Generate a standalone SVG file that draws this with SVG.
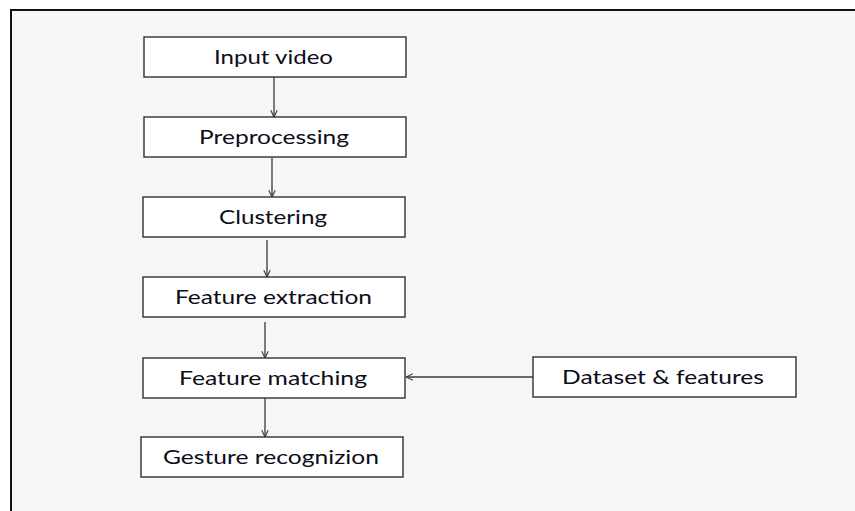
<svg xmlns="http://www.w3.org/2000/svg" width="855" height="511" viewBox="0 0 855 511">
  <style>
    .box { fill: #ffffff; stroke: #2f2f2f; stroke-width: 1.4; }
    .lbl { font-family: Lato, "Open Sans", "Liberation Sans", sans-serif; font-size: 20px; fill: #0d0d1a; text-anchor: middle; dominant-baseline: central; }
    .conn { stroke: #3a3a3a; stroke-width: 1.3; fill: none; marker-end: url(#head); }
  </style>
  <defs>
    <marker id="head" viewBox="0 0 10 10" refX="9.5" refY="5" markerWidth="8" markerHeight="8" markerUnits="userSpaceOnUse" orient="auto">
      <path d="M1,1 L9.5,5 L1,9" fill="none" stroke="#3a3a3a" stroke-width="1.4"/>
    </marker>
  </defs>

  <!-- page frame -->
  <rect x="0" y="0" width="855" height="511" fill="#ffffff"/>
  <rect x="11" y="10" width="850" height="510" fill="#f5f6f6" stroke="#111111" stroke-width="2"/>

  <g id="connectors">
    <line class="conn" x1="274" y1="77" x2="274" y2="117"/>
    <line class="conn" x1="272" y1="158" x2="272" y2="197"/>
    <line class="conn" x1="267" y1="240" x2="267" y2="277"/>
    <line class="conn" x1="265" y1="322" x2="265" y2="358"/>
    <line class="conn" x1="265" y1="398" x2="265" y2="437"/>
    <line class="conn" x1="533" y1="377" x2="406" y2="377"/>
  </g>

  <g id="input-video">
    <rect class="box" x="144" y="37" width="262" height="40"/>
    <text class="lbl" x="273.5" y="56" textLength="119" lengthAdjust="spacingAndGlyphs">Input video</text>
  </g>
  <g id="preprocessing">
    <rect class="box" x="144" y="117" width="262" height="40"/>
    <text class="lbl" x="274" y="136" textLength="150" lengthAdjust="spacingAndGlyphs">Preprocessing</text>
  </g>
  <g id="clustering">
    <rect class="box" x="143" y="197" width="262" height="40"/>
    <text class="lbl" x="273" y="216" textLength="108" lengthAdjust="spacingAndGlyphs">Clustering</text>
  </g>
  <g id="feature-extraction">
    <rect class="box" x="143" y="277" width="262" height="40"/>
    <text class="lbl" x="273.5" y="296" textLength="197" lengthAdjust="spacingAndGlyphs">Feature extraction</text>
  </g>
  <g id="feature-matching">
    <rect class="box" x="143" y="358" width="262" height="40"/>
    <text class="lbl" x="273" y="377" textLength="188" lengthAdjust="spacingAndGlyphs">Feature matching</text>
  </g>
  <g id="gesture-recognition">
    <rect class="box" x="141" y="437" width="262" height="40"/>
    <text class="lbl" x="271" y="456" textLength="216" lengthAdjust="spacingAndGlyphs">Gesture recognizion</text>
  </g>
  <g id="dataset-features">
    <rect class="box" x="533" y="357" width="263" height="40"/>
    <text class="lbl" x="663" y="376" textLength="202" lengthAdjust="spacingAndGlyphs">Dataset &amp; features</text>
  </g>
</svg>
